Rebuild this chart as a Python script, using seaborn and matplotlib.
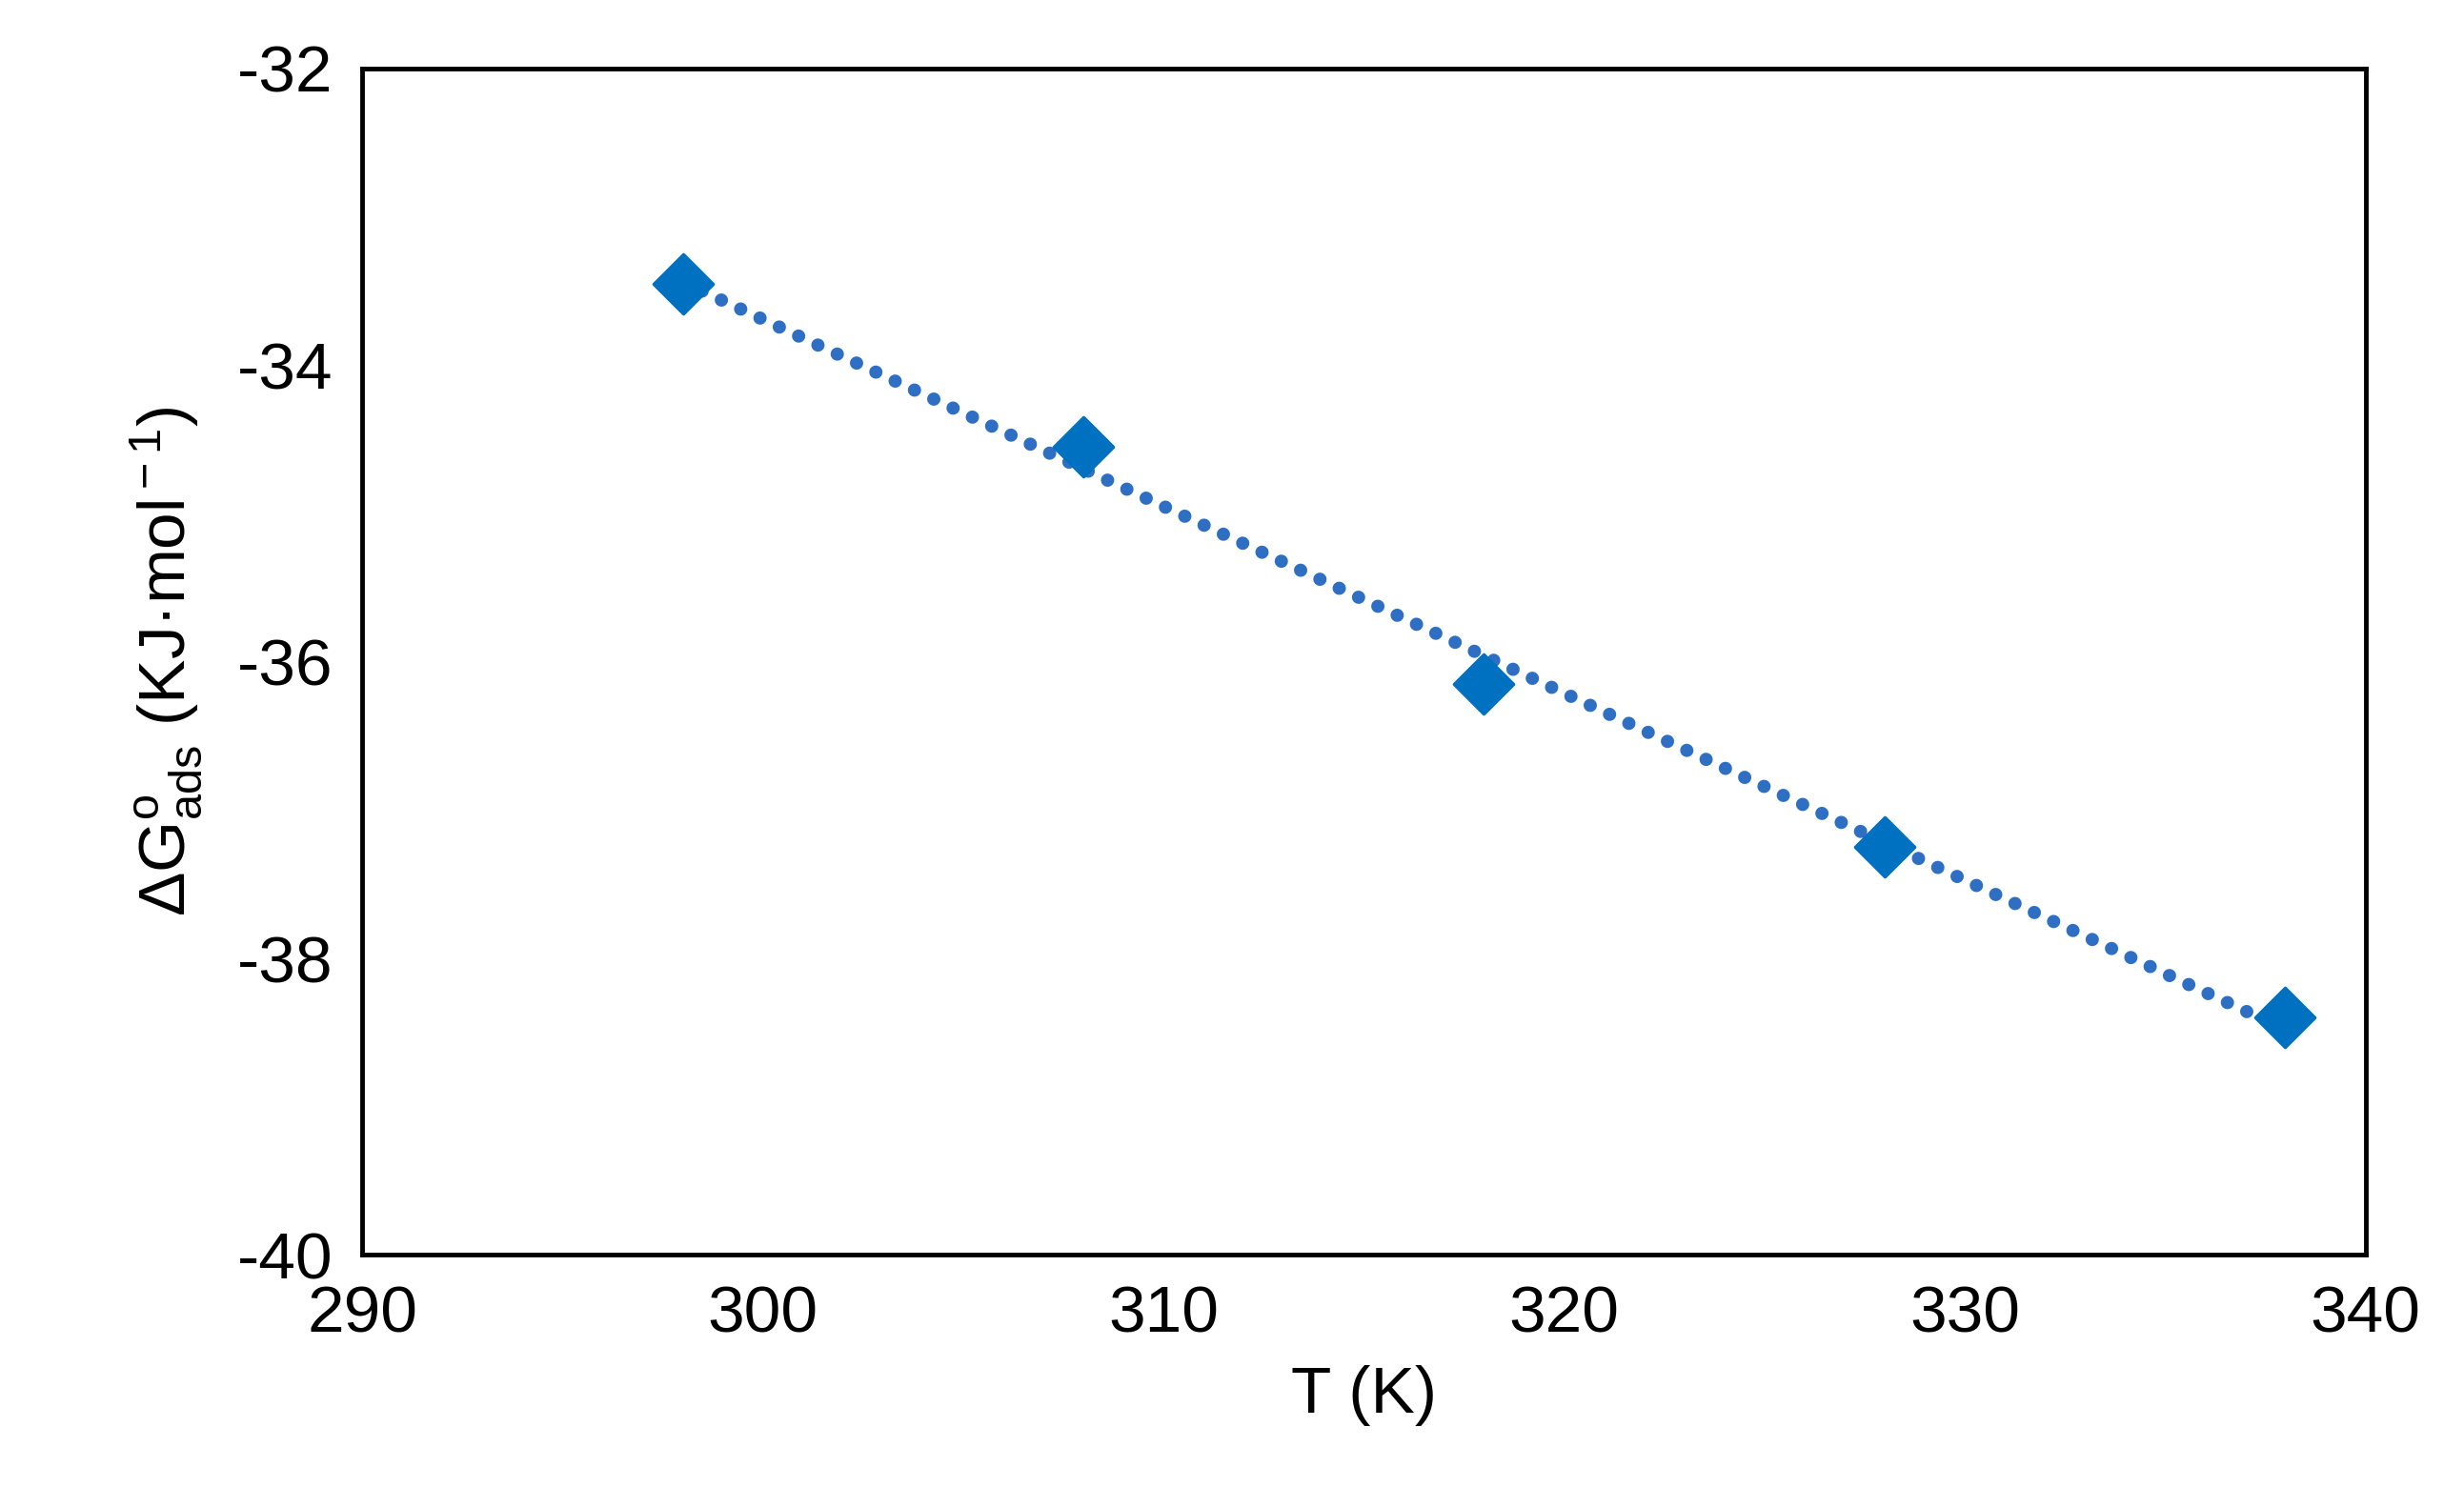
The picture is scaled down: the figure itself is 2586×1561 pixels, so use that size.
import matplotlib
matplotlib.use("Agg")
import matplotlib.pyplot as plt
import seaborn as sns
import numpy as np
import pandas as pd

T = [298, 308, 318, 328, 338]
dG = [-33.45, -34.55, -36.15, -37.25, -38.4]

sns.set_style("white")
plt.rcParams['font.family'] = ['Liberation Sans', 'DejaVu Sans']
plt.rcParams['mathtext.fontset'] = 'custom'
plt.rcParams['mathtext.rm'] = 'Liberation Sans'
plt.rcParams['mathtext.it'] = 'Liberation Sans'
plt.rcParams['axes.unicode_minus'] = False
plt.rcParams['text.color'] = 'black'
plt.rcParams['xtick.color'] = 'black'
plt.rcParams['ytick.color'] = 'black'
plt.rcParams['axes.labelcolor'] = 'black'

fig = plt.figure(figsize=(25.86, 15.61), dpi=100)
ax = fig.add_axes([0.147, 0.156, 0.813, 0.798])

color = '#0070C0'
k, b = np.polyfit(T, dG, 1)
xs = np.array([T[0], T[-1]])
ax.plot(xs, k * xs + b, color='#2E6FC4', linewidth=10,
        linestyle=(0, (0.01, 1.6)), dash_capstyle='round', zorder=2)

df = pd.DataFrame({'T': T, 'dG': dG})
sns.scatterplot(data=df, x='T', y='dG', marker='D', s=1000, color=color,
                edgecolor=color, ax=ax, zorder=3)

ax.set_xlim(290, 340)
ax.set_ylim(-40, -32)
ax.set_xticks(range(290, 341, 10))
ax.set_yticks(range(-40, -31, 2))
ax.tick_params(labelsize=50, length=0, pad=22)
for s in ax.spines.values():
    s.set_linewidth(3.5)
    s.set_color('black')
ax.set_xlabel('T (K)', fontsize=50, labelpad=15)
ax.set_ylabel(r'$\Delta$G$^{\rm o}_{\rm ads}$ (KJ·mol$^{\rm -1}$)', fontsize=50, labelpad=25)
fig.savefig('out.png', dpi=100)
